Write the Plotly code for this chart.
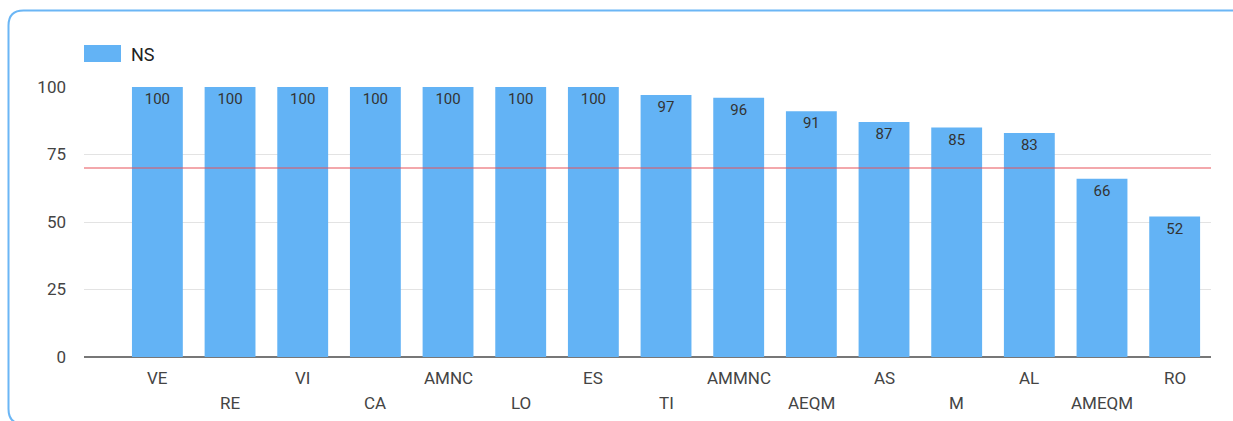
import plotly.graph_objects as go

categories = ["VE", "RE", "VI", "CA", "AMNC", "LO", "ES", "TI", "AMMNC", "AEQM", "AS", "M", "AL", "AMEQM", "RO"]
ns_values = [100, 100, 100, 100, 100, 100, 100, 97, 96, 91, 87, 85, 83, 66, 52]
y_ticks = [0, 25, 50, 75, 100]
target = 70
series_name = "NS"

W, H = 1233, 421
L, R, T, B = 84, 22, 87, 64
PW, PH = W - L - R, H - T - B

def px2x(px):
    return (px - L) / PW

def py2y(py):
    return (H - B - py) / PH

BAR = "#63B3F5"
FONT = "Roboto, Arial, sans-serif"

fig = go.Figure()
fig.add_trace(go.Bar(
    x=categories, y=ns_values, name=series_name,
    marker=dict(color=BAR, line=dict(width=0)),
    width=0.7,
    text=[str(v) for v in ns_values], textposition="inside",
    insidetextanchor="end", textangle=0,
    textfont=dict(family=FONT, size=15, color="#333333"),
    cliponaxis=False, showlegend=False,
))

# target line
fig.add_shape(type="line", xref="paper", x0=0, x1=1, yref="y", y0=target, y1=target,
              line=dict(color="#E8535A", width=1.2), layer="above")

# staggered x labels
annotations = []
for i, c in enumerate(categories):
    annotations.append(dict(
        x=c, xref="x", y=0, yref="y", yanchor="middle", xanchor="center",
        text=c, showarrow=False,
        yshift=-21 if i % 2 == 0 else -46,
        font=dict(family=FONT, size=17, color="#444444"),
    ))

# legend
annotations.append(dict(x=px2x(129), y=py2y(54), xref="paper", yref="paper",
                        xanchor="left", yanchor="middle", text=series_name, showarrow=False,
                        font=dict(family=FONT, size=18, color="#222222")))
shapes = [
    dict(type="rect", xref="paper", yref="paper",
         x0=px2x(84), x1=px2x(121), y0=py2y(45), y1=py2y(62),
         fillcolor=BAR, line=dict(width=0)),
]

# rounded border (right and bottom edges run off the picture)
l, t, r, b, rad = 8.5, 10.5, 1260, 424, 15
def P(px, py):
    return f"{px2x(px):.5f},{py2y(py):.5f}"
path = (f"M {P(l, t + rad)} Q {P(l, t)} {P(l + rad, t)} L {P(r, t)} "
        f"L {P(r, b)} L {P(l + rad, b)} Q {P(l, b)} {P(l, b - rad)} Z")
shapes.append(dict(type="path", xref="paper", yref="paper", path=path,
                   line=dict(color="#6BB6F5", width=2), fillcolor="rgba(0,0,0,0)"))

for s in shapes:
    fig.add_shape(**s)

fig.update_layout(
    width=W, height=H,
    margin=dict(l=L, r=R, t=T, b=B),
    paper_bgcolor="white", plot_bgcolor="white",
    bargap=0.3,
    annotations=annotations,
    font=dict(family=FONT),
    xaxis=dict(range=[-1.01, 14.5], showticklabels=False, showgrid=False,
               zeroline=False, showline=False, fixedrange=True),
    yaxis=dict(range=[0, 100], tickvals=y_ticks, showgrid=True, gridcolor="#E3E3E3",
               gridwidth=1, zeroline=True, zerolinecolor="#777777", zerolinewidth=1.5,
               showline=False, ticks="", ticklabelstandoff=17, fixedrange=True,
               tickfont=dict(family=FONT, size=17, color="#444444")),
)

fig.write_html("out.html", config={"displayModeBar": False, "staticPlot": True},
               post_script="document.body.style.margin='0';document.body.style.overflow='hidden';")
